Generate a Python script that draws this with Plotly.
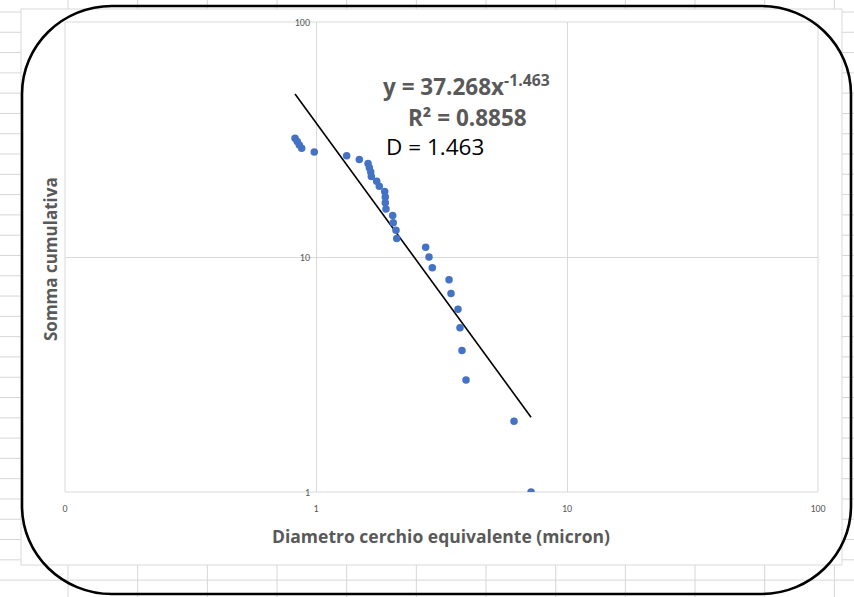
import plotly.graph_objects as go

# Equivalent-circle diameters (micron) and cumulative counts
diametro = [0.825, 0.842, 0.858, 0.877, 0.984, 1.325, 1.488, 1.612, 1.631, 1.652,
            1.661, 1.745, 1.787, 1.878, 1.888, 1.888, 1.900, 2.021, 2.031, 2.083,
            2.097, 2.735, 2.820, 2.906, 3.388, 3.450, 3.679, 3.747, 3.816, 3.960,
            6.150, 7.190]
somma = [32, 31, 30, 29, 28, 27, 26, 25, 24, 23,
         22, 21, 20, 19, 18, 17, 16, 15, 14, 13,
         12, 11, 10, 9, 8, 7, 6, 5, 4, 3,
         2, 1]

# Power-law fit y = A * x^B
coef_a = 37.268
coef_b = -1.463
r2 = 0.8858

x_ticks = [0.1, 1, 10, 100]
x_tick_text = ["0", "1", "10", "100"]
y_ticks = [1, 10, 100]
y_tick_text = ["1", "10", "100"]

W, H = 854, 597
ML, MR, MT, MB = 65, 36, 22, 105
PW, PH = W - ML - MR, H - MT - MB


def fx(p):
    return (p - ML) / PW


def fy(p):
    return (H - MB - p) / PH


NARROW = "Carlito, 'Liberation Sans Narrow', 'DejaVu Sans Condensed', sans-serif"
WIDE = "'Open Sans', 'DejaVu Sans', sans-serif"
GREY = "#595959"

fig = go.Figure()

x_fit = [min(diametro), max(diametro)]
y_fit = [coef_a * v ** coef_b for v in x_fit]
fig.add_trace(go.Scatter(x=x_fit, y=y_fit, mode="lines",
                         line=dict(color="black", width=1.6),
                         hoverinfo="skip", showlegend=False))
fig.add_trace(go.Scatter(x=diametro, y=somma, mode="markers",
                         marker=dict(color="#4472C4", size=7.5),
                         showlegend=False))

shapes = []
# spreadsheet cells behind the chart
cell_w, cell_h = 69.67, 20.29
k = 0
while 68 + k * cell_w < W:
    xp = 68 + k * cell_w
    shapes.append(dict(type="line", xref="paper", yref="paper", layer="below",
                       x0=fx(xp), x1=fx(xp), y0=fy(0), y1=fy(H),
                       line=dict(color="#d6d6d6", width=1)))
    k += 1
k = 0
while 12 + k * cell_h < H:
    yp = 12 + k * cell_h
    shapes.append(dict(type="line", xref="paper", yref="paper", layer="below",
                       x0=fx(0), x1=fx(W), y0=fy(yp), y1=fy(yp),
                       line=dict(color="#d6d6d6", width=1)))
    k += 1
# chart area
shapes.append(dict(type="rect", xref="paper", yref="paper", layer="below",
                   x0=fx(21), x1=fx(842), y0=fy(565), y1=fy(9),
                   fillcolor="white", line=dict(color="#d9d9d9", width=1)))
# plot area frame
shapes.append(dict(type="rect", xref="paper", yref="paper", layer="below",
                   x0=0, x1=1, y0=0, y1=1,
                   line=dict(color="#d9d9d9", width=1)))

# rounded black outline
L, R, T, B = 22, 851, 6, 594
rx, ry = 90, 88
c = 0.5523


def pt(px, py):
    return f"{fx(px):.5f},{fy(py):.5f}"


path = (
    f"M {pt(L + rx, T)} L {pt(R - rx, T)} "
    f"C {pt(R - rx + c * rx, T)} {pt(R, T + ry - c * ry)} {pt(R, T + ry)} "
    f"L {pt(R, B - ry)} "
    f"C {pt(R, B - ry + c * ry)} {pt(R - rx + c * rx, B)} {pt(R - rx, B)} "
    f"L {pt(L + rx, B)} "
    f"C {pt(L + rx - c * rx, B)} {pt(L, B - ry + c * ry)} {pt(L, B - ry)} "
    f"L {pt(L, T + ry)} "
    f"C {pt(L, T + ry - c * ry)} {pt(L + rx - c * rx, T)} {pt(L + rx, T)} Z"
)
shapes.append(dict(type="path", xref="paper", yref="paper", layer="above",
                   path=path, line=dict(color="black", width=2.6)))

annotations = [
    dict(text=f"<b>y = {coef_a}x<sup>{coef_b}</sup></b>", x=fx(466), y=fy(86),
         xref="paper", yref="paper", showarrow=False, xanchor="center", yanchor="middle",
         font=dict(family=WIDE, size=22.5, color=GREY)),
    dict(text=f"<b>R² = {r2}</b>", x=fx(467), y=fy(117),
         xref="paper", yref="paper", showarrow=False, xanchor="center", yanchor="middle",
         font=dict(family=WIDE, size=22.5, color=GREY)),
    dict(text=f"D = {abs(coef_b)}", x=fx(384), y=fy(146),
         xref="paper", yref="paper", showarrow=False, xanchor="left", yanchor="middle",
         font=dict(family=WIDE, size=22.5, color="black")),
    dict(text="<b>Diametro cerchio equivalente (micron)</b>", x=fx(441), y=fy(536),
         xref="paper", yref="paper", showarrow=False, xanchor="center", yanchor="middle",
         font=dict(family=WIDE, size=17.5, color=GREY)),
    dict(text="<b>Somma cumulativa</b>", x=fx(50), y=fy(259), textangle=-90,
         xref="paper", yref="paper", showarrow=False, xanchor="center", yanchor="middle",
         font=dict(family=WIDE, size=17, color=GREY)),
]

fig.update_layout(
    width=W, height=H,
    margin=dict(l=ML, r=MR, t=MT, b=MB, pad=0),
    paper_bgcolor="white", plot_bgcolor="rgba(0,0,0,0)",
    shapes=shapes, annotations=annotations,
    xaxis=dict(type="log", range=[-1, 2], tickvals=x_ticks, ticktext=x_tick_text,
               showgrid=True, gridcolor="#d9d9d9", gridwidth=1, zeroline=False,
               showline=False, ticks="", ticklabelstandoff=9,
               tickfont=dict(family=NARROW, size=10, color=GREY)),
    yaxis=dict(type="log", range=[0, 2], tickvals=y_ticks, ticktext=y_tick_text,
               showgrid=True, gridcolor="#d9d9d9", gridwidth=1, zeroline=False,
               showline=False, ticks="", anchor="free", position=(316 - ML) / PW,
               ticklabelstandoff=6,
               tickfont=dict(family=NARROW, size=10, color=GREY)),
)

fig.write_html("out.html")
